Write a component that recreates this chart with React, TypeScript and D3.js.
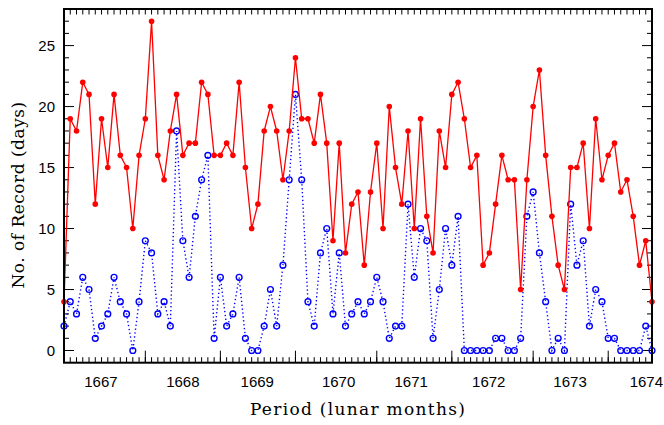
import React from "react";
import * as d3 from "d3";

// Monthly counts of record days, one value per lunar month
const recordDays = [
  4, 19, 18, 22, 21, 12, 19, 15, 21, 16, 15, 10, 16, 19, 27, 16, 14, 18, 21, 16, 17, 17, 22, 21, 16,
  16, 17, 16, 22, 15, 10, 12, 18, 20, 18, 14, 18, 24, 19, 19, 17, 21, 17, 9, 17, 8, 12, 13,
  7, 13, 17, 10, 20, 15, 12, 18, 10, 19, 11, 8, 18, 15, 21, 22, 19, 15, 16, 7, 8, 12, 16,
  14, 14, 5, 14, 20, 23, 16, 11, 7, 5, 15, 15, 17, 10, 19, 14, 16, 17, 13, 14, 11, 7, 9, 4,
];

const secondaryDays = [
  2, 4, 3, 6, 5, 1, 2, 3, 6, 4, 3, 0, 4, 9, 8, 3, 4, 2, 18, 9, 6, 11, 14, 16, 1,
  6, 2, 3, 6, 1, 0, 0, 2, 5, 2, 7, 14, 21, 14, 4, 2, 8, 10, 3, 8, 2, 3, 4,
  3, 4, 6, 4, 1, 2, 2, 12, 6, 10, 9, 1, 5, 10, 7, 11, 0, 0, 0, 0, 0, 1, 1,
  0, 0, 1, 11, 13, 8, 4, 0, 1, 0, 12, 7, 9, 2, 5, 4, 1, 1, 0, 0, 0, 0, 2, 0,
];

// Month index where each new year begins, and the month index where each year label sits
const yearBoundaries = [13, 25, 37, 50, 62, 75, 87];
const yearLabels = ["1667", "1668", "1669", "1670", "1671", "1672", "1673", "1674"];
const yearLabelPos = [5.9, 19, 30.9, 43.9, 55.5, 67.9, 80.9, 93.1];

const yTicks = [0, 5, 10, 15, 20, 25];

const W = 664;
const H = 425;
const left = 64;
const right = 652;
const top = 9;
const bottom = 362.7;

export default function App() {
  const n = recordDays.length;
  const x = d3.scaleLinear().domain([0, n - 1]).range([left, right]);
  const y = d3.scaleLinear().domain([-1, 28]).range([bottom, top]);

  const line = d3
    .line<number>()
    .x((_, i) => x(i))
    .y((d) => y(d));

  const minorX = d3.range(1, n - 1);
  const minorY = d3.range(0, 28);

  return (
    <svg
      width={W}
      height={H}
      style={{ position: "absolute", left: 0, top: 0, background: "#fff" }}
    >
      {/* bottom axis ticks */}
      {minorX.map((i) => (
        <line key={"bx" + i} x1={x(i)} x2={x(i)} y1={bottom} y2={bottom - 5.5} stroke="#000" strokeWidth={1} />
      ))}
      {yearBoundaries.map((i) => (
        <line key={"bM" + i} x1={x(i)} x2={x(i)} y1={bottom} y2={bottom - 12} stroke="#000" strokeWidth={1} />
      ))}
      {/* top axis ticks */}
      {minorX.map((i) => (
        <line key={"tx" + i} x1={x(i)} x2={x(i)} y1={top} y2={top + 5.5} stroke="#000" strokeWidth={1} />
      ))}
      {/* left and right axis ticks */}
      {minorY.map((v) => {
        const major = v % 5 === 0;
        const len = major ? 10 : 5;
        return (
          <g key={"y" + v}>
            <line x1={left} x2={left + len} y1={y(v)} y2={y(v)} stroke="#000" strokeWidth={1} />
            <line x1={right} x2={right - len} y1={y(v)} y2={y(v)} stroke="#000" strokeWidth={1} />
          </g>
        );
      })}

      {/* secondary series: dotted blue with open circles */}
      {secondaryDays.map((d, i) => (
        <circle key={"bc" + i} cx={x(i)} cy={y(d)} r={2.9} fill="none" stroke="#0000ff" strokeWidth={1.4} />
      ))}
      <path
        d={line(secondaryDays) ?? ""}
        fill="none"
        stroke="#0000ff"
        strokeWidth={1.4}
        strokeDasharray="1.3 2.6"
      />

      {/* record series: solid red with filled dots */}
      <path d={line(recordDays) ?? ""} fill="none" stroke="#ff0000" strokeWidth={1.3} />
      {recordDays.map((d, i) => (
        <circle key={"rc" + i} cx={x(i)} cy={y(d)} r={2.8} fill="#ff0000" />
      ))}

      {/* frame */}
      <rect x={left} y={top} width={right - left} height={bottom - top} fill="none" stroke="#000" strokeWidth={2} />

      {/* tick labels */}
      {yTicks.map((v) => (
        <text
          key={"yl" + v}
          x={55}
          y={y(v)}
          dy="0.36em"
          textAnchor="end"
          fontFamily="Liberation Sans, Arial, sans-serif"
          fontSize={15}
          fill="#000"
        >
          {v}
        </text>
      ))}
      {yearLabels.map((lab, k) => (
        <text
          key={"xl" + lab}
          x={x(yearLabelPos[k])}
          y={387}
          textAnchor="middle"
          fontFamily="Liberation Sans, Arial, sans-serif"
          fontSize={15}
          fill="#000"
        >
          {lab}
        </text>
      ))}

      {/* axis titles */}
      <text
        x={358}
        y={415}
        textAnchor="middle"
        fontFamily="DejaVu Serif, serif"
        fontSize={17}
        letterSpacing={1.3}
        fill="#000"
      >
        Period (lunar months)
      </text>
      <text
        transform={`translate(24, 195) rotate(-90)`}
        textAnchor="middle"
        fontFamily="DejaVu Serif, serif"
        fontSize={17}
        letterSpacing={0.5}
        fill="#000"
      >
        No. of Record (days)
      </text>
    </svg>
  );
}
